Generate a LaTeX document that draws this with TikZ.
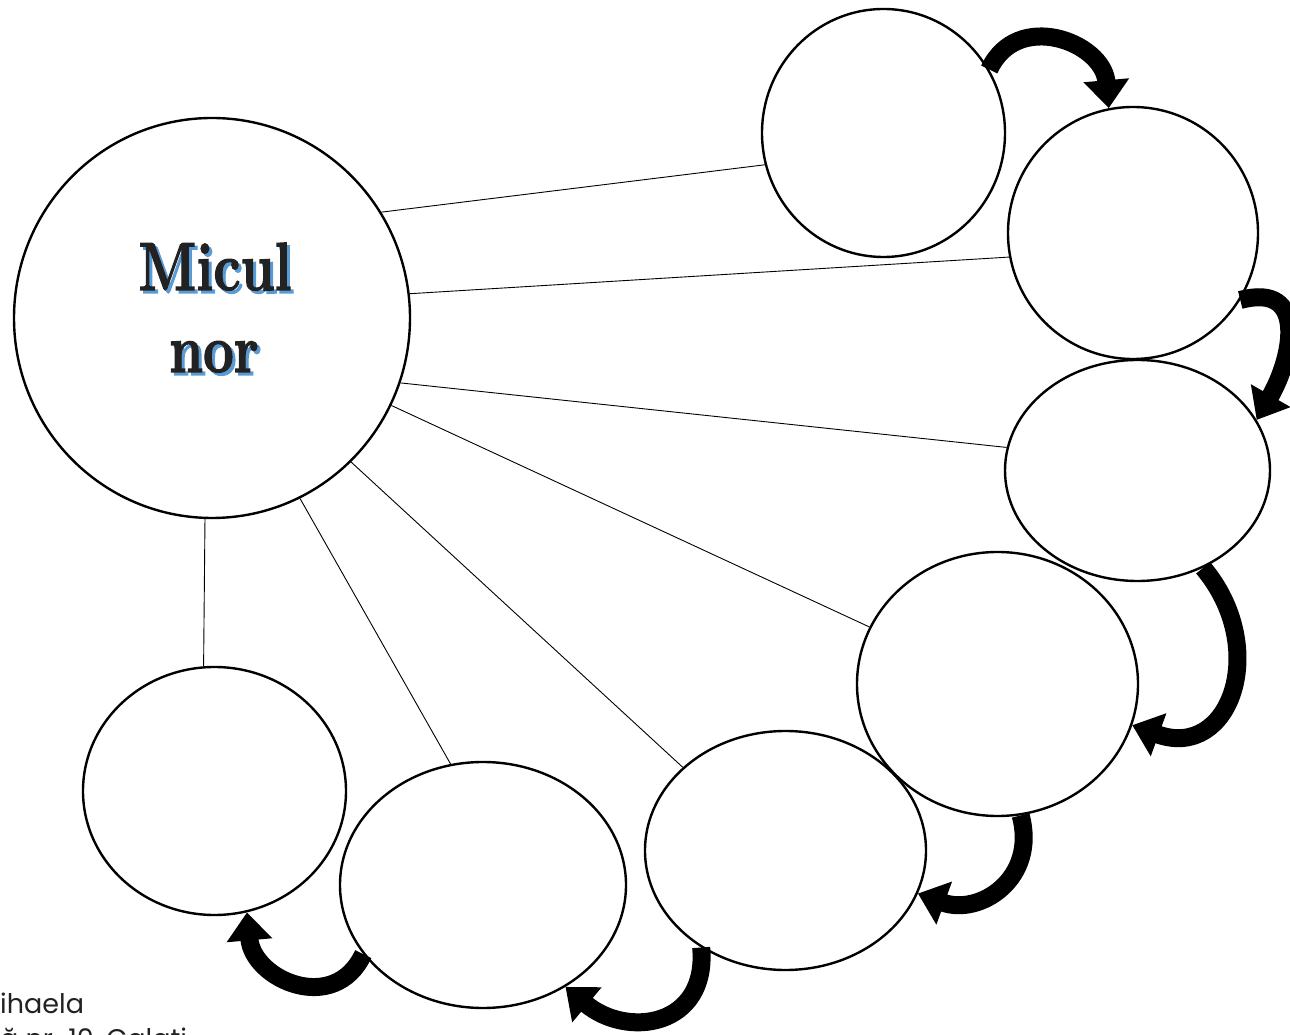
\documentclass[tikz,border=0pt]{standalone}
\usepackage{fontspec}
\usepackage{graphicx}
\usetikzlibrary{arrows.meta,shapes.geometric}
\newfontfamily\footfont{Poppins}
\newfontfamily\titlefont{Latin Modern Roman}[BoldFeatures={FakeBold=2}]
\definecolor{shade}{RGB}{91,155,213}
\definecolor{ink}{RGB}{34,34,34}
\newcommand\narrowtxt[1]{\scalebox{.8}[1]{#1}}

\begin{document}
\begin{tikzpicture}[x=1pt,y=1pt,
 bub/.style={draw=black,ellipse,line width=2.4pt,inner sep=0pt},
 link/.style={draw=black,line width=.9pt},
 turn/.style={draw=black,line width=18pt,-{Triangle[width=44pt,length=28pt]}},
 ttl/.style={font=\titlefont\fontsize{68}{80}\selectfont\bfseries,inner sep=0pt,anchor=base},
 foot/.style={font=\footfont\fontsize{27}{32}\selectfont,text=ink,inner sep=0pt,anchor=base west}]
\clip (0,0) rectangle (1290,1034);
% title with blue shadow
\node[ttl,text=shade] (miculs) at (218,741) {\narrowtxt{Micul}};
\node[ttl,text=shade] (nors) at (217,659) {\narrowtxt{nor}};
\node[ttl,text=ink] (micul) at (215,744) {\narrowtxt{Micul}};
\node[ttl,text=ink] (nor) at (214,662) {\narrowtxt{nor}};
% bubbles
\node[bub,minimum width=396pt,minimum height=400pt] (big) at (212,716) {};
\node[bub,minimum width=243pt,minimum height=248pt] (c1) at (883.5,901) {};
\node[bub,minimum width=250pt,minimum height=252pt] (c2) at (1133,801) {};
\node[bub,minimum width=265pt,minimum height=221pt] (c3) at (1137.5,563.5) {};
\node[bub,minimum width=281pt,minimum height=264pt] (c4) at (997.5,350) {};
\node[bub,minimum width=281pt,minimum height=239pt] (c5) at (785.5,183.5) {};
\node[bub,minimum width=286pt,minimum height=246pt] (c6) at (483,149) {};
\node[bub,minimum width=263pt,minimum height=248pt] (c7) at (214.5,243) {};
% spokes
\draw[link] (big.32) -- (c1.195);
\draw[link] (big.7) -- (c2.191);
\draw[link] (big.-19) -- (c3.170);
\draw[link] (big.-26) -- (c4.156);
\draw[link] (big.-46) -- (c5.141);
\draw[link] (big.-64) -- (c6.105);
\draw[link] (big.-92) -- (c7.95);
% round arrows
\draw[turn] (c1.31) to[out=65,in=95,looseness=1.35] (c2.101);
\draw[turn] (c2.-32) to[out=15,in=60,looseness=1.5] (c3.23);
\draw[turn] (c3.-56) to[out=-50,in=-20,looseness=1.55] (c4.-17);
\draw[turn] (c4.-80) to[out=-75,in=-20,looseness=1.3] (c5.-18);
\draw[turn] (c5.-131) to[out=-85,in=-40,looseness=1.45] (c6.-51);
\draw[turn] (c6.-150) to[out=-115,in=-85,looseness=1.4] (c7.-75);
% footer
\node[foot] (name) at (0,21) {ihaela};
\node[foot] (school) at (0,-14) {ă nr. 10, Galați};
\end{tikzpicture}
\end{document}
